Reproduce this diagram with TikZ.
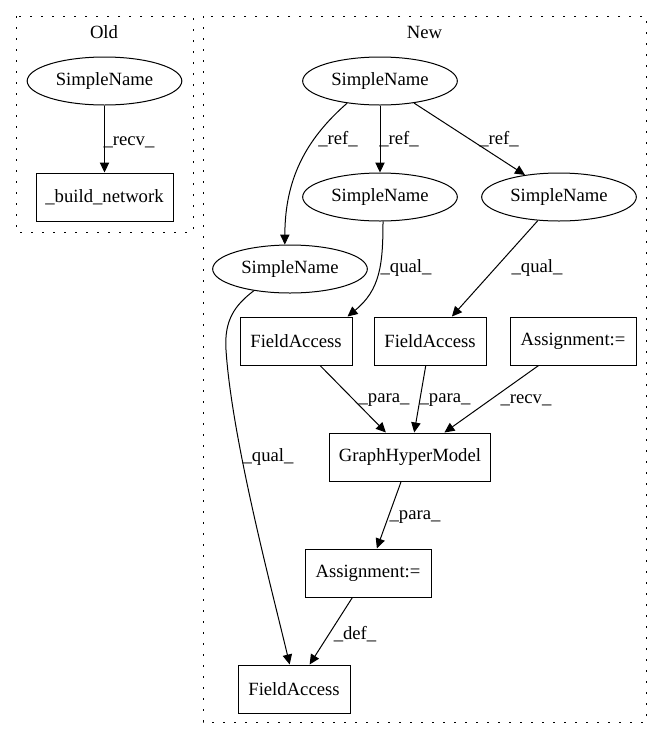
\documentclass[tikz,border=0pt]{standalone}
\usepackage{fontspec}
\setmainfont{Liberation Serif}
\usetikzlibrary{shapes.geometric,arrows.meta}
\begin{document}
\begin{tikzpicture}[x=0.75pt,y=-0.75pt,
  every node/.style={font=\fontsize{14}{16}\selectfont},
  sn/.style={draw,ellipse,minimum width=116pt,minimum height=36pt,inner sep=0pt,line width=0.75pt},
  bx/.style={draw,rectangle,minimum height=36pt,inner sep=0pt,line width=0.75pt},
  lbl/.style={inner sep=0pt},
  conn/.style={line width=0.75pt,-{Triangle[length=7.5pt,width=7pt]}},
  cluster/.style={line width=0.75pt,dash pattern=on 1.5pt off 6.75pt}]
\useasboundingbox (0,0) rectangle (663,740);
% clusters
\draw[cluster] (16,16) rectangle (193,232);
\draw[cluster] (203,16) rectangle (646,722);
\node[lbl] (otitle) at (104,32) {Old};
\node[lbl] (ntitle) at (424.5,32) {New};
% Old
\node[sn] (o1) at (104.5,81) {SimpleName};
\node[bx,minimum width=102.75pt] (o2) at (104.5,197) {\_build\_network};
\draw[conn] (o1) -- (o2);
\node[lbl] (lo) at (129,142) {\_recv\_};
% New
\node[sn] (top) at (380,81) {SimpleName};
\node[sn] (mid) at (380,197) {SimpleName};
\node[sn] (right) at (559,197) {SimpleName};
\node[sn] (left) at (290,269) {SimpleName};
\node[bx,minimum width=84pt] (fa1) at (296,341) {FieldAccess};
\node[bx,minimum width=84pt] (fa2) at (430,341) {FieldAccess};
\node[bx,minimum width=94.5pt] (asg1) at (573,341) {Assignment:=};
\node[bx,minimum width=120.75pt] (ghm) at (410,457) {GraphHyperModel};
\node[bx,minimum width=94.5pt] (asg2) at (368,573) {Assignment:=};
\node[bx,minimum width=84pt] (fab) at (294,689) {FieldAccess};
% edges
\draw[conn] (top) -- (mid);
\draw[conn] (top) -- (right);
\draw[conn] (top.214) .. controls (305,140) and (285,180) .. (left.102);
\draw[conn] (mid.277) .. controls (383,265) and (380,290) .. ([xshift=-3.75pt]fa1.north east);
\draw[conn] (right) -- (fa2);
\draw[conn] (left.211) .. controls (235,305) and (224,320) .. (226,350) .. controls (232,440) and (272,590) .. (fab.100);
\draw[conn] (fa1) -- (ghm);
\draw[conn] (fa2) -- (ghm);
\draw[conn] (asg1) -- (ghm);
\draw[conn] (ghm) -- (asg2);
\draw[conn] (asg2) -- (fab);
% labels
\node[lbl] (l1) at (338,139) {\_ref\_};
\node[lbl] (l2) at (399,139) {\_ref\_};
\node[lbl] (l3) at (499,139) {\_ref\_};
\node[lbl] (l4) at (406,268) {\_qual\_};
\node[lbl] (l5) at (537,268) {\_qual\_};
\node[lbl] (l6) at (384,400) {\_para\_};
\node[lbl] (l7) at (445,400) {\_para\_};
\node[lbl] (l8) at (526,400) {\_recv\_};
\node[lbl] (l9) at (268,457) {\_qual\_};
\node[lbl] (l10) at (415,517) {\_para\_};
\node[lbl] (l11) at (355,634) {\_def\_};
\end{tikzpicture}
\end{document}
